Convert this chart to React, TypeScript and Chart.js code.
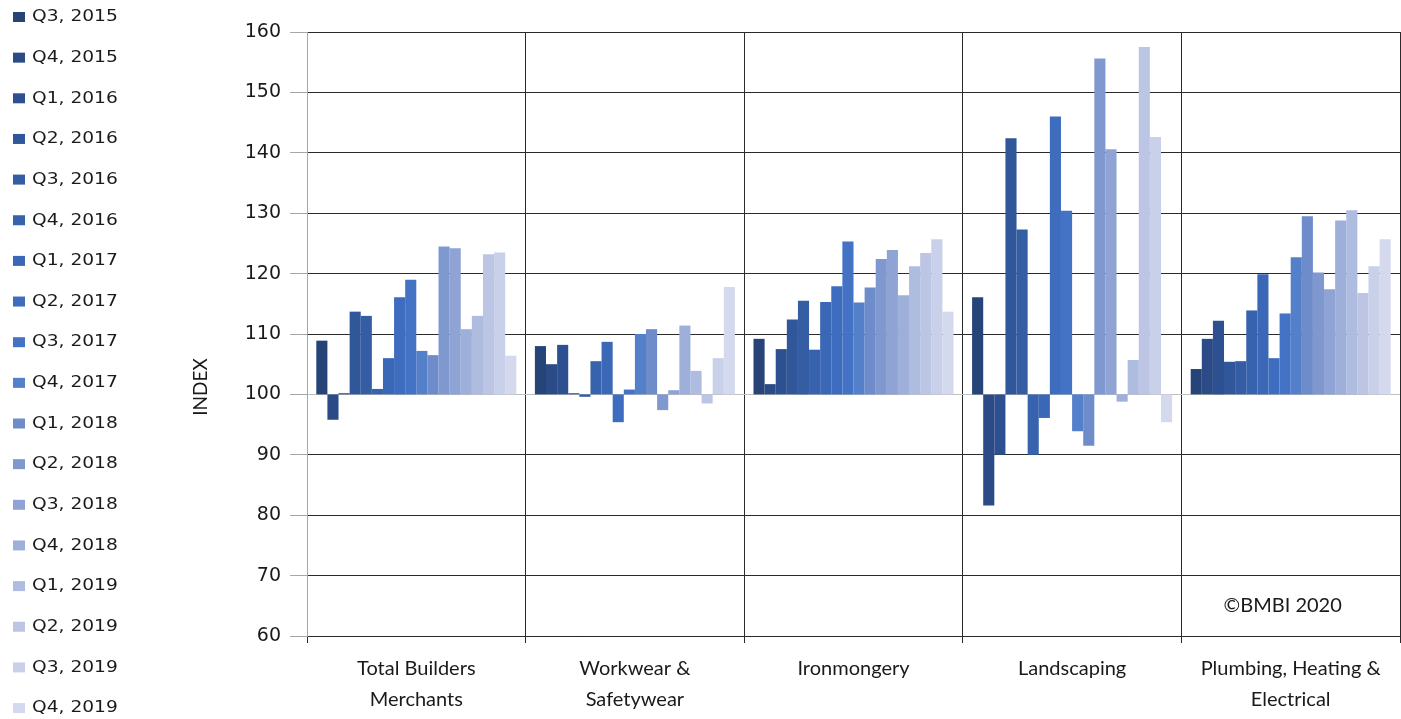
import React, { useEffect, useRef } from "react";
import { Chart, registerables } from "chart.js";

Chart.register(...registerables);

// ---- Data ----
const categories: string[][] = [
  ["Total Builders", "Merchants"],
  ["Workwear &", "Safetywear"],
  ["Ironmongery"],
  ["Landscaping"],
  ["Plumbing, Heating &", "Electrical"],
];

const seriesLabels = [
  "Q3, 2015", "Q4, 2015", "Q1, 2016", "Q2, 2016", "Q3, 2016", "Q4, 2016",
  "Q1, 2017", "Q2, 2017", "Q3, 2017", "Q4, 2017", "Q1, 2018", "Q2, 2018",
  "Q3, 2018", "Q4, 2018", "Q1, 2019", "Q2, 2019", "Q3, 2019", "Q4, 2019",
];

// Index values per category, one per quarter (Q3 2015 ... Q4 2019)
const totalBuildersMerchants = [108.9, 95.8, 100.2, 113.7, 113.0, 100.9, 106.0, 116.1, 119.0, 107.2, 106.5, 124.5, 124.2, 110.8, 113.0, 123.2, 123.5, 106.4];
const workwearSafetywear = [108.0, 105.0, 108.2, 100.2, 99.6, 105.5, 108.7, 95.4, 100.8, 110.0, 110.8, 97.4, 100.7, 111.4, 103.9, 98.5, 106.0, 117.8];
const ironmongery = [109.2, 101.7, 107.5, 112.4, 115.5, 107.4, 115.3, 117.9, 125.3, 115.2, 117.7, 122.4, 123.9, 116.4, 121.2, 123.4, 125.7, 113.7];
const landscaping = [116.1, 81.6, 90.0, 142.4, 127.3, 90.0, 96.1, 146.0, 130.4, 93.9, 91.5, 155.6, 140.6, 98.8, 105.7, 157.5, 142.6, 95.4];
const plumbingHeatingElectrical = [104.2, 109.2, 112.2, 105.4, 105.5, 113.9, 119.9, 106.0, 113.4, 122.7, 129.5, 120.2, 117.4, 128.8, 130.5, 116.8, 121.2, 125.7];

const categoryValues = [totalBuildersMerchants, workwearSafetywear, ironmongery, landscaping, plumbingHeatingElectrical];

const baseValue = 100;
const yTicks = [60, 70, 80, 90, 100, 110, 120, 130, 140, 150, 160];
const axisTitle = "INDEX";
const copyrightText = "©BMBI 2020";

const seriesColors = [
  "#264478", "#2a4b85", "#2d5190", "#30579a", "#345da4", "#3762ad",
  "#3a67b6", "#3e6cbe", "#4472c4", "#547fc9", "#6e8bca", "#7f99d0",
  "#8fa4d5", "#9eb0da", "#adbcdf", "#bcc6e4", "#c9d0e9", "#d4d9ee",
];

const overlayPlugin = {
  id: "overlay",
  afterDraw(chart: any) {
    const ctx = chart.ctx as CanvasRenderingContext2D;
    ctx.save();
    // legend
    seriesLabels.forEach((lab, i) => {
      const y = 17 + i * 40.65;
      ctx.fillStyle = seriesColors[i];
      ctx.fillRect(13, y - 5, 12, 10);
      ctx.save();
      ctx.translate(32, y);
      ctx.scale(1.13, 1);
      ctx.fillStyle = "#1a1a1a";
      ctx.font = "16.5px 'DejaVu Sans'";
      ctx.textBaseline = "middle";
      ctx.textAlign = "left";
      ctx.fillText(lab, 0, 0);
      ctx.restore();
    });
    // axis title
    ctx.save();
    ctx.translate(201, 387);
    ctx.rotate(-Math.PI / 2);
    ctx.fillStyle = "#1a1a1a";
    ctx.font = "19px Lato";
    ctx.textAlign = "center";
    ctx.textBaseline = "middle";
    ctx.fillText(axisTitle, 0, 0);
    ctx.restore();
    // copyright
    const xs = chart.scales.x;
    const ys = chart.scales.y;
    ctx.fillStyle = "#1a1a1a";
    ctx.font = "20px Lato";
    ctx.textAlign = "center";
    ctx.textBaseline = "middle";
    ctx.fillText(copyrightText, xs.getPixelForValue(4) - 8, ys.getPixelForValue(65));
    ctx.restore();
  },
};

export default function App() {
  const ref = useRef<HTMLCanvasElement | null>(null);

  useEffect(() => {
    if (!ref.current) return;
    const datasets = seriesLabels.map((label, i) => ({
      label,
      data: categoryValues.map((vals) => [baseValue, vals[i]]),
      backgroundColor: seriesColors[i],
      borderWidth: 0,
      barPercentage: 1,
      categoryPercentage: 0.915,
    }));

    const chart = new Chart(ref.current, {
      type: "bar",
      data: { labels: categories as any, datasets: datasets as any },
      options: {
        animation: false,
        responsive: true,
        maintainAspectRatio: false,
        layout: { padding: { left: 185, top: 32, right: 1, bottom: 0 } },
        plugins: {
          legend: { display: false },
          tooltip: { enabled: false },
        },
        scales: {
          x: {
            grid: {
              color: "#2b2b2b",
              lineWidth: 1,
              tickLength: 7,
              offset: true,
            },
            border: { color: "#2b2b2b" },
            ticks: {
              color: "#1a1a1a",
              font: { family: "Lato", size: 20, lineHeight: 1.55 },
              padding: 10,
              maxRotation: 0,
              autoSkip: false,
            },
            afterFit: (s: any) => {
              s.height = 83;
            },
          },
          y: {
            min: 60,
            max: 160,
            afterBuildTicks: (s: any) => {
              s.ticks = yTicks.map((v) => ({ value: v }));
            },
            grid: {
              color: (c: any) => (c.tick && c.tick.value === baseValue ? "#bfbfbf" : "#2b2b2b"),
              tickColor: "#a6a6a6",
              tickLength: 17,
            },
            border: { color: "#a6a6a6" },
            ticks: {
              color: "#1a1a1a",
              font: { family: "DejaVu Sans", size: 19 },
              padding: 9,
            },
            afterFit: (s: any) => {
              s.width = 122;
            },
          },
        },
      },
      plugins: [overlayPlugin],
    });
    return () => chart.destroy();
  }, []);

  return (
    <div style={{ position: "fixed", left: 0, top: 0, width: 1401, height: 719, background: "#fff" }}>
      <canvas ref={ref} />
    </div>
  );
}
